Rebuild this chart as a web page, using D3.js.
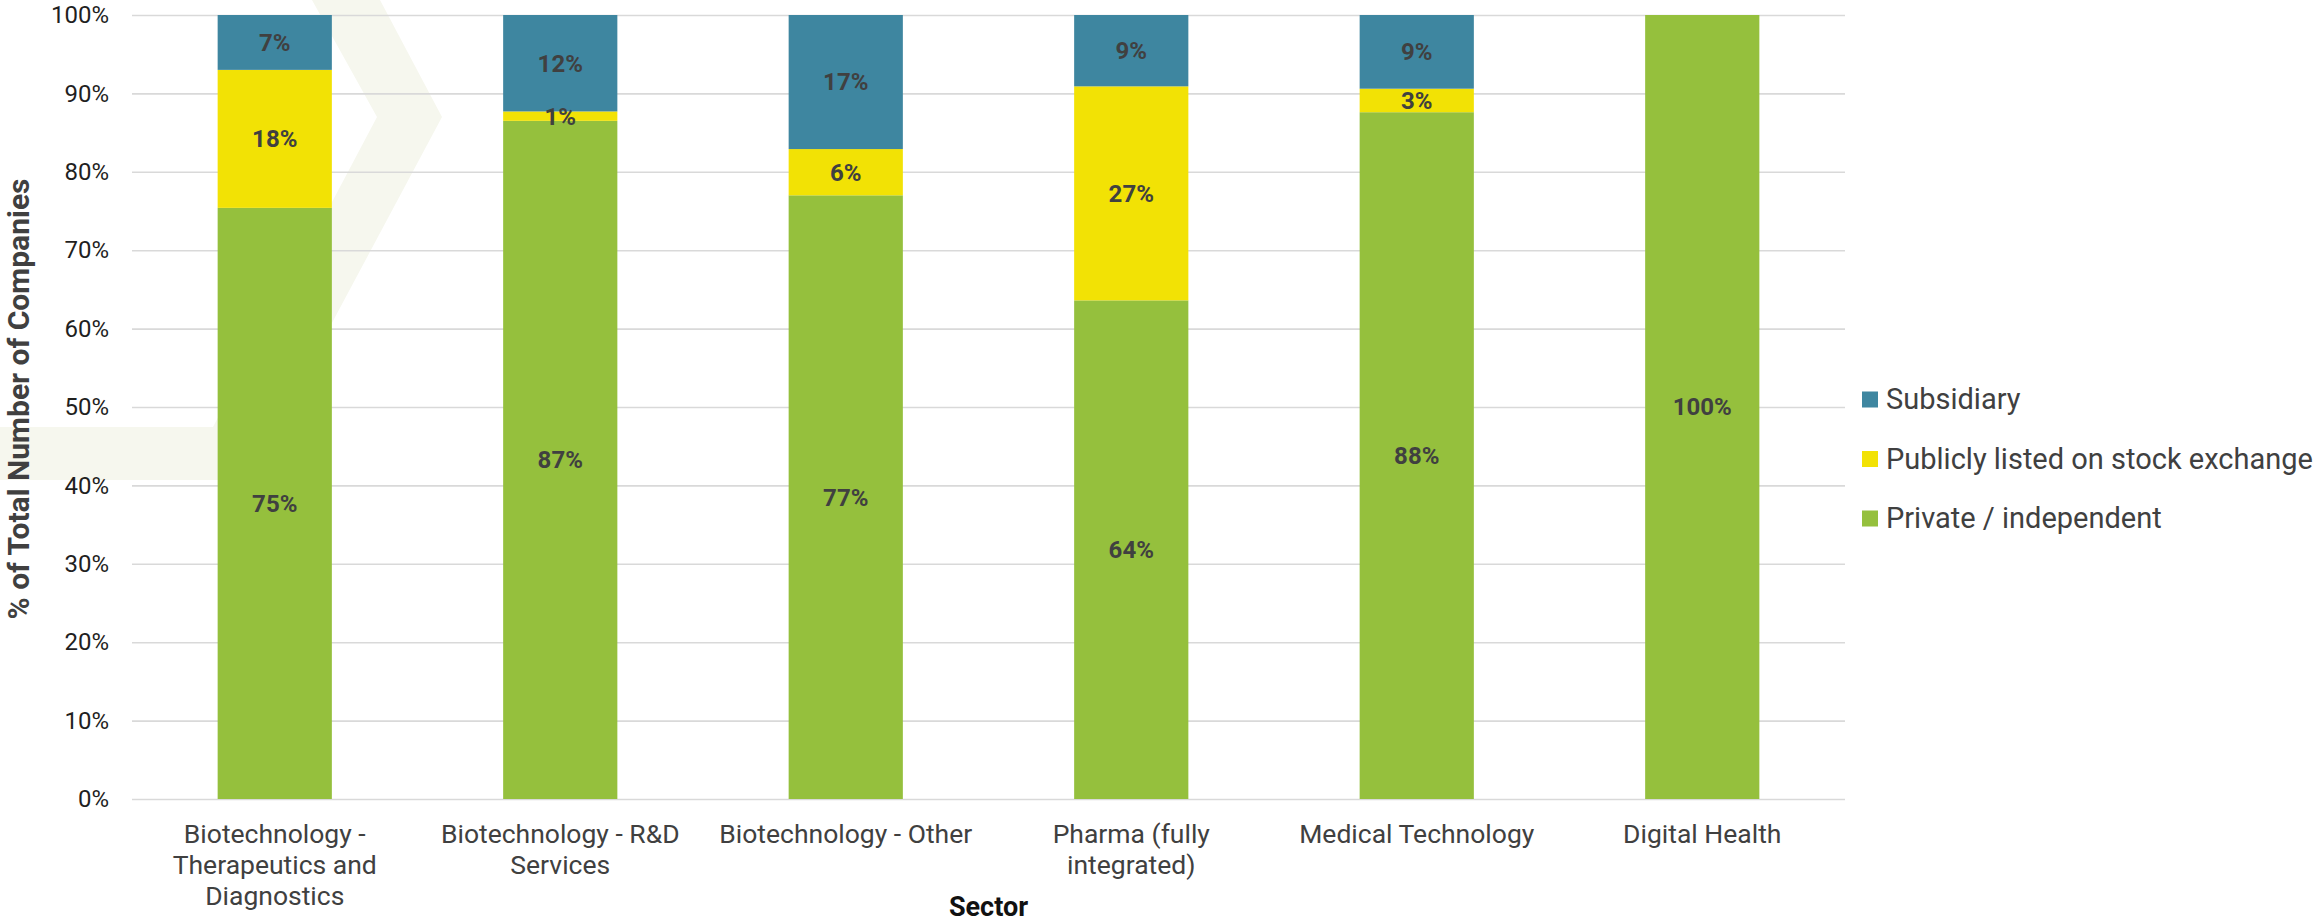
<!DOCTYPE html>
<html>
<head>
<meta charset="utf-8">
<script src="https://cdn.jsdelivr.net/npm/d3@7"></script>
<style>
  html, body { margin: 0; padding: 0; background: #fff; }
  svg { display: block; font-family: Roboto, "Noto Sans", sans-serif; }
</style>
</head>
<body>
<svg id="chart" width="2316" height="922"></svg>
<script>
// ---- Data ----
const categories = [
  "Biotechnology - Therapeutics and Diagnostics",
  "Biotechnology - R&D Services",
  "Biotechnology - Other",
  "Pharma (fully integrated)",
  "Medical Technology",
  "Digital Health"
];
const categoryLabelLines = [
  ["Biotechnology -", "Therapeutics and", "Diagnostics"],
  ["Biotechnology - R&D", "Services"],
  ["Biotechnology - Other"],
  ["Pharma (fully", "integrated)"],
  ["Medical Technology"],
  ["Digital Health"]
];
const seriesNames = ["Private / independent", "Publicly listed on stock exchange", "Subsidiary"];
const privateIndependent = [75.4, 86.5, 77.0, 63.6, 87.6, 100];
const publiclyListed     = [17.6, 1.2, 5.9, 27.3, 3.0, 0];
const subsidiary         = [7.0, 12.3, 17.1, 9.1, 9.4, 0];
const yTicks = [0, 10, 20, 30, 40, 50, 60, 70, 80, 90, 100];
const seriesColors = ["#95C03D", "#F2E205", "#3E86A0"];
const legendOrder = [2, 1, 0];

(function () {
// ---- Layout ----
const svg = d3.select("#chart");
const mLeft = 132, mRight = 1845, mTop = 15, mBottom = 799;

// watermark (decorative background chevron)
svg.append("path")
  .attr("d", "M312,0 L380,0 L442,117 L248,480 L0,480 L0,427 L213,427 L377,117 Z")
  .attr("fill", "#F6F7EE");

const x = d3.scaleBand().domain(categories).range([mLeft, mRight]).paddingInner(0.6).paddingOuter(0.3);
const y = d3.scaleLinear().domain([0, 100]).range([mBottom, mTop]);

// y axis + gridlines
const yAxis = svg.append("g")
  .attr("transform", `translate(${mLeft},0)`)
  .call(d3.axisLeft(y).tickValues(yTicks).tickSize(-(mRight - mLeft)).tickPadding(23).tickFormat(d => d + "%"));
yAxis.select(".domain").remove();
yAxis.selectAll(".tick line").attr("stroke", "#D9D9D9").attr("stroke-width", 1.6);
yAxis.selectAll(".tick text")
  .attr("font-size", 24).attr("fill", "#1f1f1f")
  .attr("font-family", "Roboto, sans-serif");

// stacked data
const rows = categories.map((c, i) => ({
  cat: c,
  vals: [privateIndependent[i], publiclyListed[i], subsidiary[i]]
}));
const stackData = [];
rows.forEach(r => {
  let acc = 0;
  r.vals.forEach((v, si) => {
    stackData.push({ cat: r.cat, series: si, y0: acc, y1: acc + v, v: v });
    acc += v;
  });
});

svg.append("g").selectAll("rect")
  .data(stackData.filter(d => d.v > 0))
  .join("rect")
  .attr("x", d => x(d.cat))
  .attr("width", x.bandwidth())
  .attr("y", d => y(d.y1))
  .attr("height", d => y(d.y0) - y(d.y1))
  .attr("fill", d => seriesColors[d.series]);

svg.append("g").selectAll("text")
  .data(stackData.filter(d => d.v > 0))
  .join("text")
  .attr("x", d => x(d.cat) + x.bandwidth() / 2)
  .attr("y", d => (y(d.y0) + y(d.y1)) / 2)
  .attr("dy", "0.35em")
  .attr("text-anchor", "middle")
  .attr("font-size", 24)
  .attr("font-weight", "bold")
  .attr("fill", "#404040")
  .text(d => Math.round(d.v) + "%");

// x axis labels
const xAxis = svg.append("g")
  .attr("transform", `translate(0,${mBottom})`)
  .call(d3.axisBottom(x).tickSize(0).tickFormat(""));
xAxis.select(".domain").remove();
xAxis.selectAll(".tick").each(function(d, i) {
  const t = d3.select(this).append("text")
    .attr("text-anchor", "middle")
    .attr("font-size", 26.5)
    .attr("fill", "#404040")
    .attr("font-family", "Roboto, sans-serif");
  categoryLabelLines[i].forEach((line, li) => {
    t.append("tspan").attr("x", 0).attr("y", 43.5 + li * 31.3).text(line);
  });
});

// axis titles
svg.append("text")
  .attr("x", (mLeft + mRight) / 2).attr("y", 916)
  .attr("text-anchor", "middle")
  .attr("font-size", 27).attr("font-weight", "bold").attr("fill", "#111")
  .text("Sector");

svg.append("text")
  .attr("transform", `translate(29,${(mTop + mBottom) / 2 - 8}) rotate(-90)`)
  .attr("text-anchor", "middle")
  .attr("font-size", 30).attr("font-weight", "bold").attr("fill", "#404040")
  .text("% of Total Number of Companies");

// legend
const legend = svg.append("g").attr("transform", "translate(1862,399)");
legendOrder.forEach((si, k) => {
  const g = legend.append("g").attr("transform", `translate(0,${k * 59.5})`);
  g.append("rect").attr("x", 0).attr("y", -7.5).attr("width", 16).attr("height", 16).attr("fill", seriesColors[si]);
  g.append("text").attr("x", 24).attr("y", 0).attr("dy", "0.35em")
    .attr("font-size", 29).attr("fill", "#404040")
    .text(seriesNames[si]);
});
})();
</script>
</body>
</html>
